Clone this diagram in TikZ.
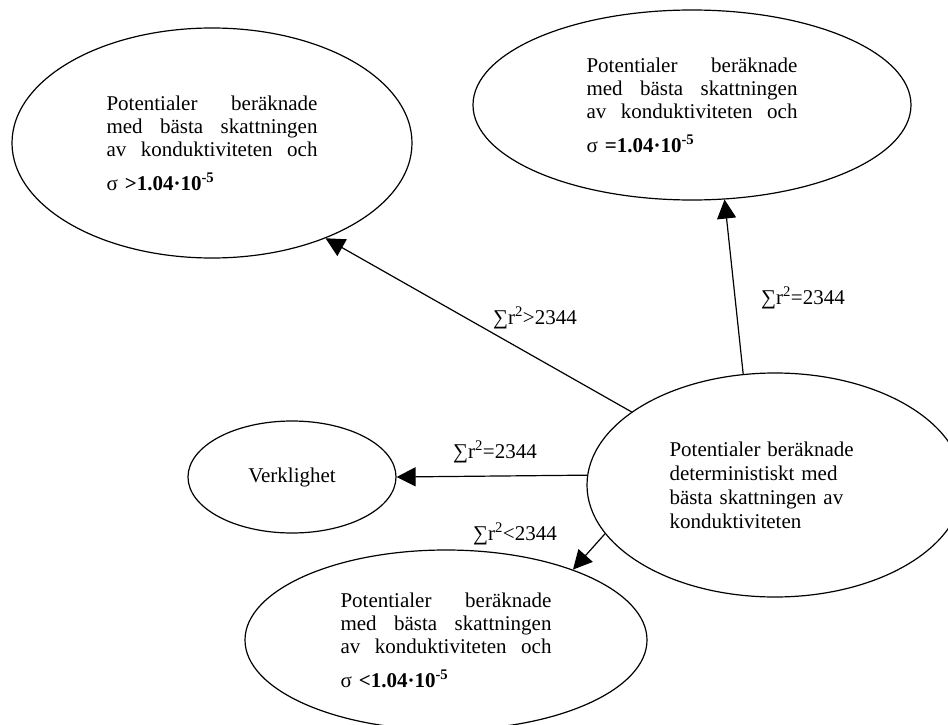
\documentclass[tikz,border=0pt]{standalone}
\usepackage{fontspec}
\setmainfont{Liberation Serif}
\usetikzlibrary{shapes,arrows.meta}

% rad som fylls ut till full bredd (align=left ger fasta mellanslag)
\newcommand{\fyll}[1]{\makebox[211pt][s]{\spaceskip=0pt\xspaceskip=0pt\relax #1}}

\begin{document}
\begin{tikzpicture}[x=1pt,y=-1pt,line width=1.2pt,
  font=\fontsize{21}{23}\selectfont,
  boll/.style={draw,ellipse,inner sep=0pt,text width=211pt,align=left},
  pil/.style={-{Triangle[length=19pt,width=19pt]}}]
\useasboundingbox (0,0) rectangle (948,725);

\node[boll,minimum width=400pt,minimum height=230pt] (tl) at (212,143)
  {\fyll{Potentialer beräknade}\\ \fyll{med bästa skattningen}\\
   \fyll{av konduktiviteten och}\\[11pt] σ \textbf{>1.04·10\textsuperscript{-5}}};
\node[boll,minimum width=438pt,minimum height=190pt] (tr) at (692,105)
  {\fyll{Potentialer beräknade}\\ \fyll{med bästa skattningen}\\
   \fyll{av konduktiviteten och}\\[11pt] σ \textbf{=1.04·10\textsuperscript{-5}}};
\node[boll,minimum width=376pt,minimum height=224pt,font=\fontsize{21}{24}\selectfont] (cr) at (775,485)
  {Potentialer beräknade\\ deterministiskt med\\ bästa skattningen av\\ konduktiviteten};
\node[draw,ellipse,minimum width=208pt,minimum height=112pt] (vk) at (292,477) {Verklighet};
\node[boll,minimum width=402pt,minimum height=180pt] (bt) at (446,640)
  {\fyll{Potentialer beräknade}\\ \fyll{med bästa skattningen}\\
   \fyll{av konduktiviteten och}\\[11pt] σ \textbf{<1.04·10\textsuperscript{-5}}};

\draw[pil] (cr.153.7) -- (tl.-40.5);
\draw[pil] (cr.106.6) -- (tr.-71);
\draw[pil] (cr.177.6) -- (vk.east);
\draw[pil] (cr.-164.1) -- (bt.29.4);

\node (st) at (535,318) {∑r\textsuperscript{2}>2344};
\node (lika) at (803,298) {∑r\textsuperscript{2}=2344};
\node (verk) at (495,452) {∑r\textsuperscript{2}=2344};
\node (mi) at (515,534) {∑r\textsuperscript{2}<2344};
\end{tikzpicture}
\end{document}
